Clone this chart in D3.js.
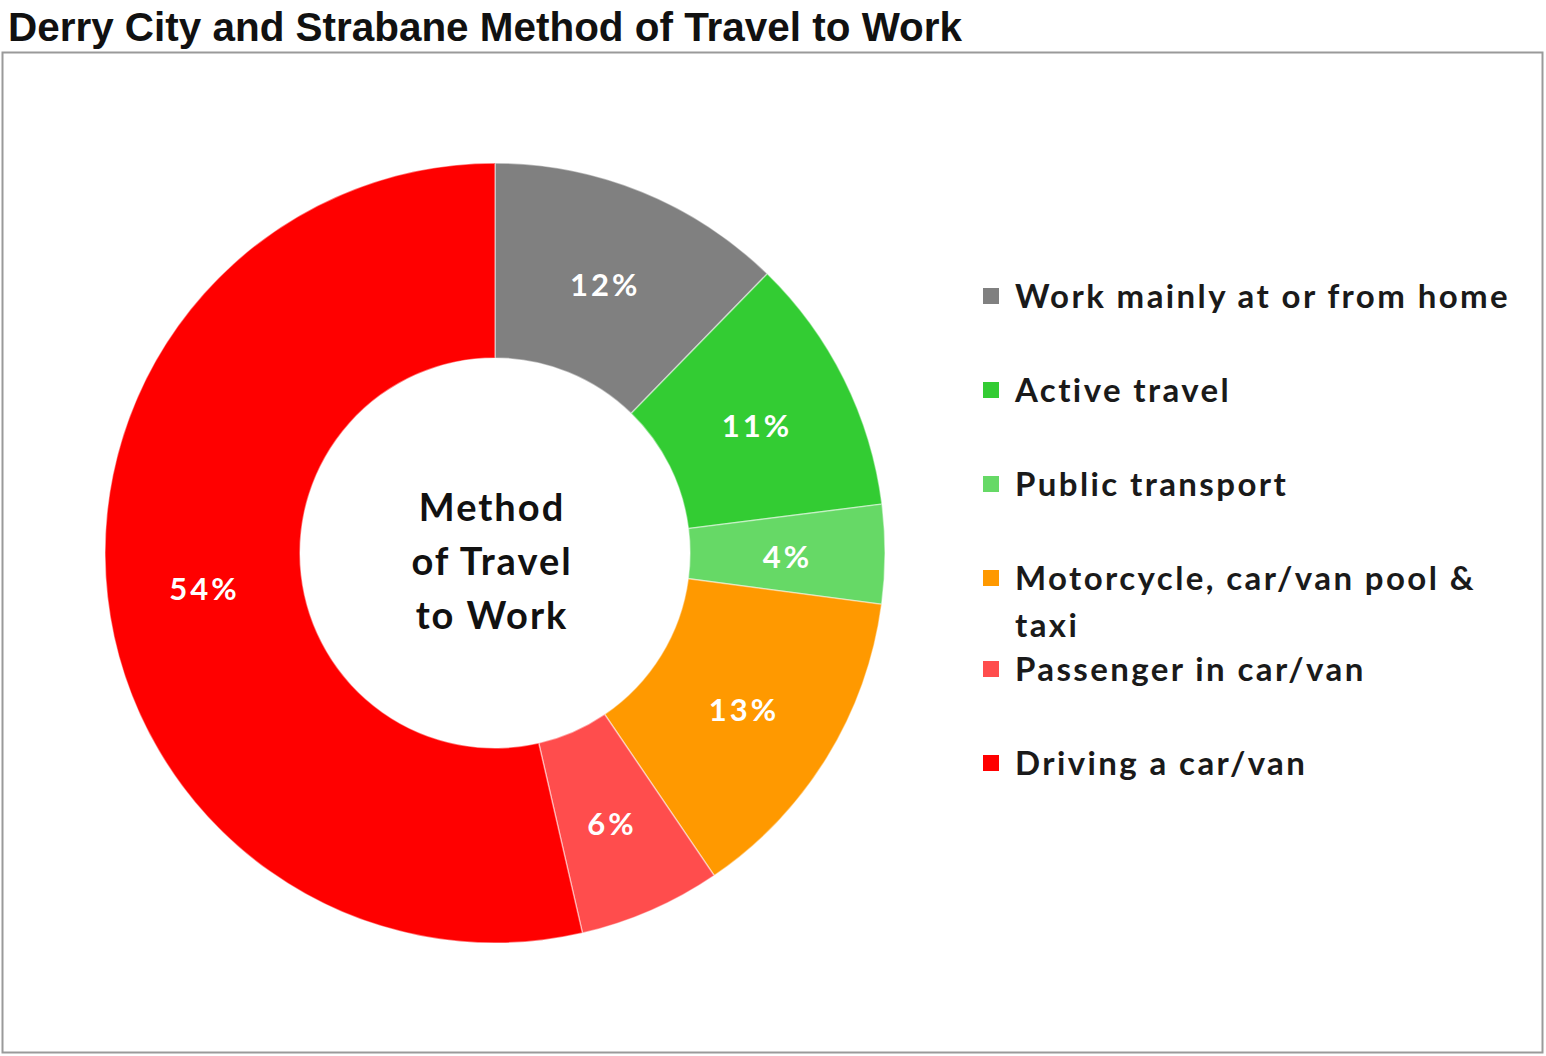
<!DOCTYPE html>
<html><head><meta charset="utf-8">
<script src="https://cdn.jsdelivr.net/npm/d3@7"></script>
<style>html,body{margin:0;padding:0;background:#fff;}</style>
</head><body>
<svg id="chart" width="1546" height="1056"></svg>
<script>
const title = "Derry City and Strabane Method of Travel to Work";
const categories = ["Work mainly at or from home","Active travel","Public transport","Motorcycle, car/van pool & taxi","Passenger in car/van","Driving a car/van"];
const values = [12.3, 10.7, 4.1, 13.4, 5.9, 53.6];
const valueLabels = ["12%","11%","4%","13%","6%","54%"];
const colors = ["#808080","#33cc33","#66d966","#ff9900","#ff4d4d","#ff0000"];
const legendLines = [["Work mainly at or from home"],["Active travel"],["Public transport"],["Motorcycle, car/van pool &","taxi"],["Passenger in car/van"],["Driving a car/van"]];
const centerText = ["Method","of Travel","to Work"];

const svg = d3.select("#chart");

// frame
svg.append("rect").attr("x",2.5).attr("y",52.5).attr("width",1540).attr("height",1000)
  .attr("fill","none").attr("stroke","#9a9a9a").attr("stroke-width",2);

svg.append("text").attr("x",8).attr("y",41).text(title)
  .attr("font-family","'Liberation Sans Narrow','Arial Narrow',sans-serif")
  .attr("font-size",40).attr("font-weight","bold").attr("fill","#111")
  .attr("textLength",954).attr("lengthAdjust","spacingAndGlyphs");

const cx = 495, cy = 553, R = 390, r = 195;
const pie = d3.pie().sort(null).value(d => d)(values);
const arc = d3.arc().innerRadius(r).outerRadius(R);
const labelArc = d3.arc().innerRadius((R+r)/2).outerRadius((R+r)/2);
const g = svg.append("g").attr("transform",`translate(${cx},${cy})`);
g.selectAll("path").data(pie).join("path")
  .attr("d",arc).attr("fill",(d,i)=>colors[i])
  .attr("stroke","rgba(255,255,255,0.45)").attr("stroke-width",1.5);
g.selectAll("text.lbl").data(pie).join("text").attr("class","lbl")
  .attr("transform",d=>{const c=labelArc.centroid(d);return `translate(${c[0]},${c[1]+3})`;})
  .attr("text-anchor","middle").attr("dy","0.36em")
  .attr("font-family","Lato, 'Open Sans', sans-serif").attr("font-weight","bold")
  .attr("font-size",31).attr("letter-spacing",3).attr("fill","#fff")
  .text((d,i)=>valueLabels[i]);

g.selectAll("text.ctr").data(centerText).join("text").attr("class","ctr")
  .attr("x",-3).attr("y",(d,i)=>8+(i-1)*54).attr("dy","0.36em")
  .attr("text-anchor","middle")
  .attr("font-family","Lato, 'Open Sans', sans-serif").attr("font-weight","bold")
  .attr("font-size",38).attr("letter-spacing",2).attr("fill","#111").text(d=>d);

// legend
const legendY = [296,390,484,578,669,763];
const lg = svg.append("g");
categories.forEach((c,i)=>{
  lg.append("rect").attr("x",983).attr("y",legendY[i]-8).attr("width",16).attr("height",16).attr("fill",colors[i]);
  legendLines[i].forEach((line,j)=>{
    lg.append("text").attr("x",1015).attr("y",legendY[i]+j*47).attr("dy","0.36em")
      .attr("font-family","Lato, 'Open Sans', sans-serif").attr("font-weight","bold")
      .attr("font-size",33).attr("letter-spacing",2.4).attr("fill","#1a1a1a").text(line);
  });
});
</script>
</body></html>
